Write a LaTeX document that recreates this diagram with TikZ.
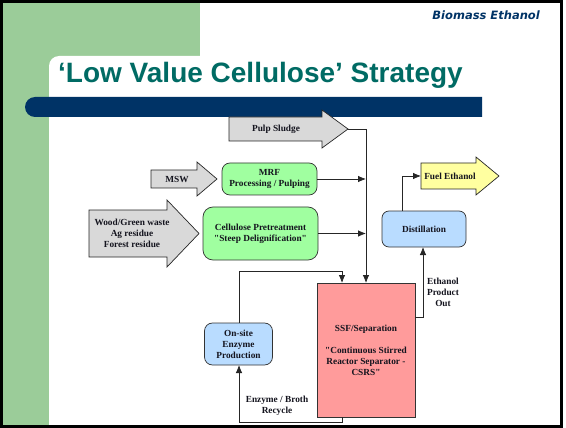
\documentclass[tikz,border=0pt]{standalone}
\usepackage{fontspec}
\setmainfont{Liberation Serif}[Ligatures=TeXOff]
\newfontfamily\titlefont{Liberation Sans}
\newfontfamily\hdrfont{DejaVu Sans}
\usetikzlibrary{arrows.meta}
\definecolor{slidegreen}{RGB}{155,204,153}
\definecolor{navybar}{RGB}{0,51,102}
\definecolor{titleteal}{RGB}{0,107,100}
\definecolor{boxgreen}{RGB}{160,255,160}
\definecolor{boxblue}{RGB}{185,220,255}
\definecolor{boxred}{RGB}{255,155,155}
\definecolor{boxyellow}{RGB}{255,255,160}
\definecolor{arrgray}{RGB}{217,217,217}
\definecolor{txt}{RGB}{20,20,30}
\begin{document}
\begin{tikzpicture}[x=1pt,y=-1pt,
  lbl/.style={font=\fontsize{9.3}{11}\selectfont\bfseries, text=txt, align=center, inner sep=0pt},
  grayarr/.style={draw=black!85, fill=arrgray, line width=0.7pt, line join=miter},
  procbox/.style={lbl, draw=black!80, line width=0.7pt, rounded corners=8pt},
  conn/.style={draw=black!85, line width=0.8pt},
  arr/.style={conn, -{Latex[length=8pt,width=6.5pt]}}]
\useasboundingbox (0,0) rectangle (566,428);
\fill[white] (0,0) rectangle (566,428);
% slide background
\fill[slidegreen] (3,3) rectangle (200,66);
\fill[slidegreen] (3,3) rectangle (49,425);
\fill[white] (49,425) -- (49,66) arc[start angle=180,end angle=270,radius=10] -- (560,56) -- (560,425) -- cycle;
\fill[navybar] (482,97) -- (35,97) arc[start angle=270,end angle=90,radius=10] -- (482,117) -- cycle;
\node[anchor=base west, inner sep=0pt, text=titleteal, font=\titlefont\bfseries\fontsize{28}{30}\selectfont] (title) at (58,83) {‘Low Value Cellulose’ Strategy};
\node[anchor=base east, inner sep=0pt, text=navybar, font=\hdrfont\bfseries\itshape\fontsize{11.5}{13}\selectfont] (hdr) at (540,20) {Biomass Ethanol};
\draw[line width=3pt] (1.5,1.5) rectangle (561,426.5);
% input arrows
\draw[grayarr] (229,117) -- (322,117) -- (322,110) -- (348,129) -- (322,148) -- (322,141) -- (229,141) -- cycle;
\node[lbl] (pulp) at (276,129) {Pulp Sludge};
\coordinate (pulptip) at (348,129);
\draw[grayarr] (151,170) -- (197,170) -- (197,162) -- (217,179) -- (197,196) -- (197,188) -- (151,188) -- cycle;
\node[lbl] (msw) at (177,179) {MSW};
\draw[grayarr] (89,210) -- (167,210) -- (167,200) -- (199,233.5) -- (167,267) -- (167,257) -- (89,257) -- cycle;
\node[lbl] (wood) at (132,233.5) {Wood/Green waste\\Ag residue\\Forest residue};
\draw[grayarr, fill=boxyellow] (421,163) -- (476,163) -- (476,157) -- (499,176) -- (476,195) -- (476,189) -- (421,189) -- cycle;
\node[lbl] (fuel) at (450,176) {Fuel Ethanol};
\coordinate (fueltail) at (421,176);
% process boxes
\node[procbox, fill=boxgreen, minimum width=95pt, minimum height=32pt] (mrf) at (269.5,179) {MRF\\Processing / Pulping};
\node[procbox, fill=boxgreen, minimum width=115pt, minimum height=53pt, rounded corners=10pt] (cell) at (260.5,233.5) {Cellulose Pretreatment\\"Steep Delignification"};
\node[procbox, fill=boxred, rounded corners=0pt, minimum width=98pt, minimum height=134pt] (ssf) at (366,350) {SSF/Separation\\[11pt]"Continuous Stirred\\Reactor Separator -\\CSRS"};
\node[procbox, fill=boxblue, minimum width=68pt, minimum height=42pt] (enz) at (238.5,344) {On-site\\Enzyme\\Production};
\node[procbox, fill=boxblue, minimum width=84pt, minimum height=36pt, rounded corners=7pt] (dist) at (424,229) {Distillation};
% labels
\node[lbl] (ethlbl) at (443,292) {Ethanol\\Product\\Out};
\node[lbl] (reclbl) at (277,406) {Enzyme / Broth\\Recycle};
% connectors
\draw[arr] (pulptip) -- (366,129) -- (366,283);
\draw[arr] (mrf.east) -- (366,179);
\draw[arr] (cell.east) -- (366,233.5);
\draw[arr] (enz.north -| 239,0) -- (239,271) -- (342,271) -- (342,283);
\draw[arr] (342,417) -- (342,422) -- (239,422) -- (239,365);
\draw[arr] (415,317) -- (423,317) -- (423,247);
\draw[arr] (402,211) -- (402,176) -- (fueltail);
\end{tikzpicture}
\end{document}
